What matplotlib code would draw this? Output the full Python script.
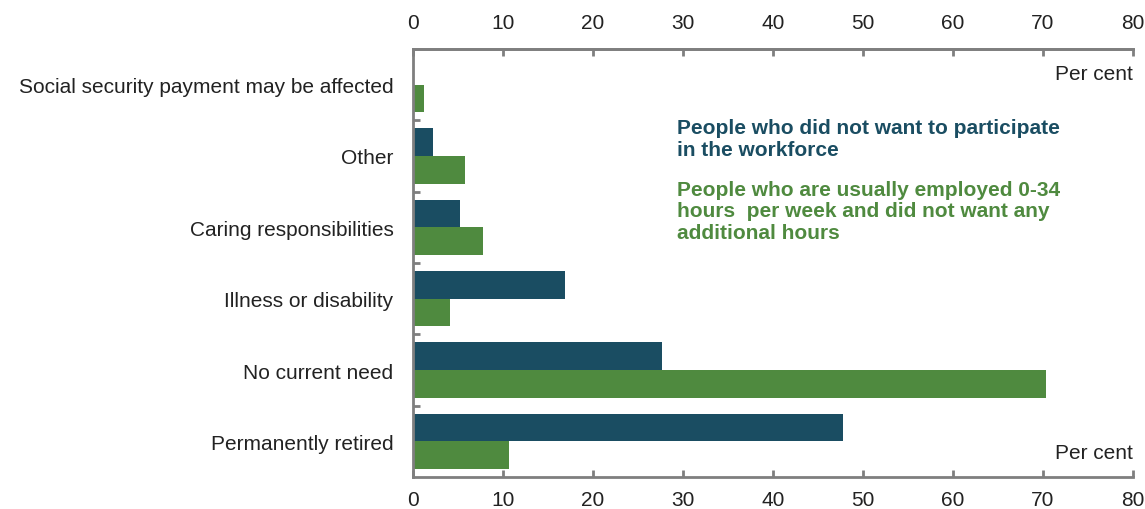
import numpy as np
import matplotlib.pyplot as plt
from matplotlib.ticker import FixedLocator

plt.rcParams['font.family'] = ['Liberation Sans', 'DejaVu Sans']

# Reasons for not wanting to work / wanting more hours
categories = ['Social security payment may be affected', 'Other',
              'Caring responsibilities', 'Illness or disability',
              'No current need', 'Permanently retired']
not_participating = [0.0, 2.2, 5.2, 16.9, 27.7, 47.8]
part_time_no_more = [1.2, 5.8, 7.8, 4.1, 70.3, 10.7]
xticks = np.arange(0, 81, 10)

blue = '#1a4d62'
green = '#4f8a3f'
grey = '#7f7f7f'
fs = 15

fig = plt.figure(figsize=(11.45, 5.10), dpi=100)
ax = fig.add_axes([0.3607, 0.0627, 0.6288, 0.8393])

y = np.arange(len(categories))
h = 0.39
ax.barh(y - h / 2, not_participating, height=h, color=blue)
ax.barh(y + h / 2, part_time_no_more, height=h, color=green)

ax.set_xlim(0, 80)
ax.set_ylim(len(categories) - 0.5, -0.5)
ax.set_yticks(y)
ax.set_yticklabels(categories, fontsize=fs, color='#222222')
ax.yaxis.set_minor_locator(FixedLocator(np.arange(0.5, len(categories) - 0.5, 1)))
ax.tick_params(axis='y', which='major', length=0, pad=14)
ax.tick_params(axis='y', which='minor', direction='in', length=5, width=2, color=grey)

# bottom axis
ax.set_xticks(xticks)
ax.tick_params(axis='x', which='major', direction='in', length=5, width=2, color=grey,
               labelsize=fs, labelcolor='#222222', pad=9)

# top axis with the same scale
top = ax.secondary_xaxis('top')
top.set_xticks(xticks)
top.tick_params(direction='in', length=5, width=2, color=grey,
                labelsize=fs, labelcolor='#222222', pad=12)
top.spines['top'].set_color(grey)
top.spines['top'].set_linewidth(2)

for side in ['left', 'top', 'bottom']:
    ax.spines[side].set_color(grey)
    ax.spines[side].set_linewidth(2)
ax.spines['right'].set_visible(False)

ax.text(1.0, 0.9416, 'Per cent', transform=ax.transAxes, ha='right', va='center',
        fontsize=fs, color='#222222')
ax.text(1.0, 0.0584, 'Per cent', transform=ax.transAxes, ha='right', va='center',
        fontsize=fs, color='#222222')

ax.text(29.3, 0.755, 'People who did not want to participate\nin the workforce',
        fontsize=fs, fontweight='bold', color=blue, va='center', linespacing=1.15)
ax.text(29.3, 1.77, 'People who are usually employed 0-34\nhours  per week and did not want any\nadditional hours',
        fontsize=fs, fontweight='bold', color=green, va='center', linespacing=1.15)

fig.savefig('out.png', dpi=100)
